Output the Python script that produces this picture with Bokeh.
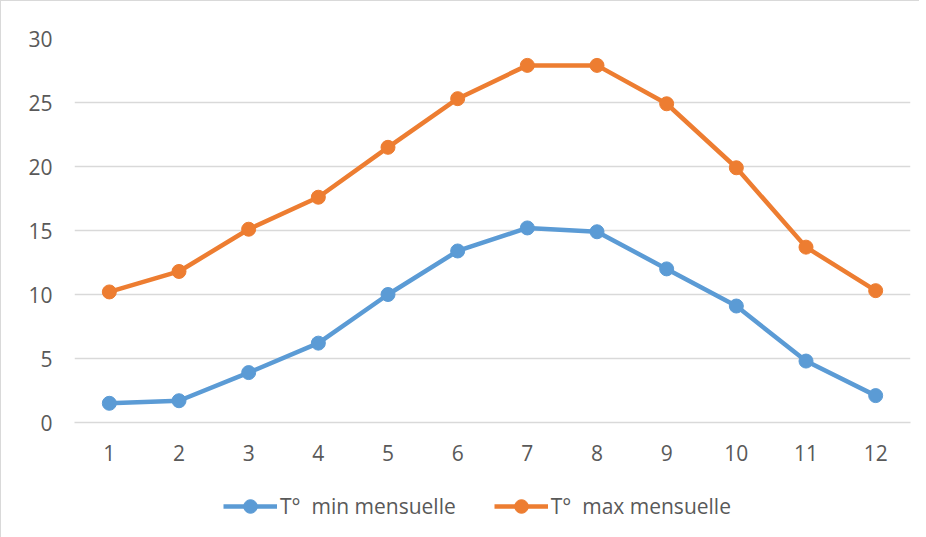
from bokeh.plotting import figure
from bokeh.layouts import column
from bokeh.models import Range1d, FixedTicker, Legend, LegendItem, ColumnDataSource
from bokeh.embed import file_html
from bokeh.resources import INLINE

months = [1, 2, 3, 4, 5, 6, 7, 8, 9, 10, 11, 12]
t_min = [1.5, 1.7, 3.9, 6.2, 10.0, 13.4, 15.2, 14.9, 12.0, 9.1, 4.8, 2.1]
t_max = [10.2, 11.8, 15.1, 17.6, 21.5, 25.3, 27.9, 27.9, 24.9, 19.9, 13.7, 10.3]
y_ticks = [0, 5, 10, 15, 20, 25, 30]
labels = ["T°  min mensuelle", "T°  max mensuelle"]
colors = ["#5B9BD5", "#ED7D31"]

FONT = "Open Sans"
TXT = "#595959"
GRID = "#d9d9d9"

p = figure(width=918, height=474, output_backend="svg", toolbar_location=None,
           x_range=Range1d(0.5, 12.5), y_range=Range1d(0, 30),
           min_border_left=73, min_border_right=9, min_border_top=37, min_border_bottom=53)
p.outline_line_color = None
p.background_fill_color = "white"
p.border_fill_color = "white"

p.xgrid.grid_line_color = None
p.ygrid.grid_line_color = GRID
p.ygrid.grid_line_width = 1.5
p.ygrid.ticker = FixedTicker(ticks=y_ticks)

p.xaxis.ticker = FixedTicker(ticks=months)
p.yaxis.ticker = FixedTicker(ticks=y_ticks)
for ax in (p.xaxis[0], p.yaxis[0]):
    ax.major_tick_line_color = None
    ax.minor_tick_line_color = None
    ax.major_label_text_font = FONT
    ax.major_label_text_font_size = "21px"
    ax.major_label_text_color = TXT
p.yaxis.axis_line_color = None
p.xaxis.axis_line_color = GRID
p.xaxis.axis_line_width = 1.5
p.yaxis.major_label_standoff = 16
p.xaxis.major_label_standoff = 16

src = ColumnDataSource(dict(m=months, lo=t_min, hi=t_max))
for col, c in zip(["lo", "hi"], colors):
    p.line("m", col, source=src, line_color=c, line_width=4.5)
    p.scatter("m", col, source=src, size=14, fill_color=c, line_color=c)

# legend strip below the chart (its ranges keep the series out of view)
pl = figure(width=918, height=62, output_backend="svg", toolbar_location=None,
            x_range=Range1d(-30, -20), y_range=Range1d(-30, -20),
            x_axis_location=None, y_axis_location=None,
            min_border_left=0, min_border_right=0, min_border_top=0, min_border_bottom=0)
pl.outline_line_color = None
pl.grid.visible = False
pl.border_fill_color = "white"
items = []
for col, lab, c in zip(["lo", "hi"], labels, colors):
    ln = pl.line("m", col, source=src, line_color=c, line_width=4.5)
    sc = pl.scatter("m", col, source=src, size=14, fill_color=c, line_color=c)
    items.append(LegendItem(label=lab, renderers=[ln, sc]))
legend = Legend(items=items, orientation="horizontal", location=(149, 14),
                padding=0, margin=0, spacing=38, glyph_width=54, glyph_height=34,
                label_height=34, label_standoff=3,
                label_text_font=FONT, label_text_font_size="21px", label_text_color=TXT,
                border_line_color=None, background_fill_alpha=0)
pl.add_layout(legend, "center")

layout = column(p, pl, spacing=0)
layout.styles = {"border-left": "1px solid #d9d9d9", "border-top": "1px solid #d9d9d9"}

open("out.html", "w").write(file_html(layout, INLINE))
